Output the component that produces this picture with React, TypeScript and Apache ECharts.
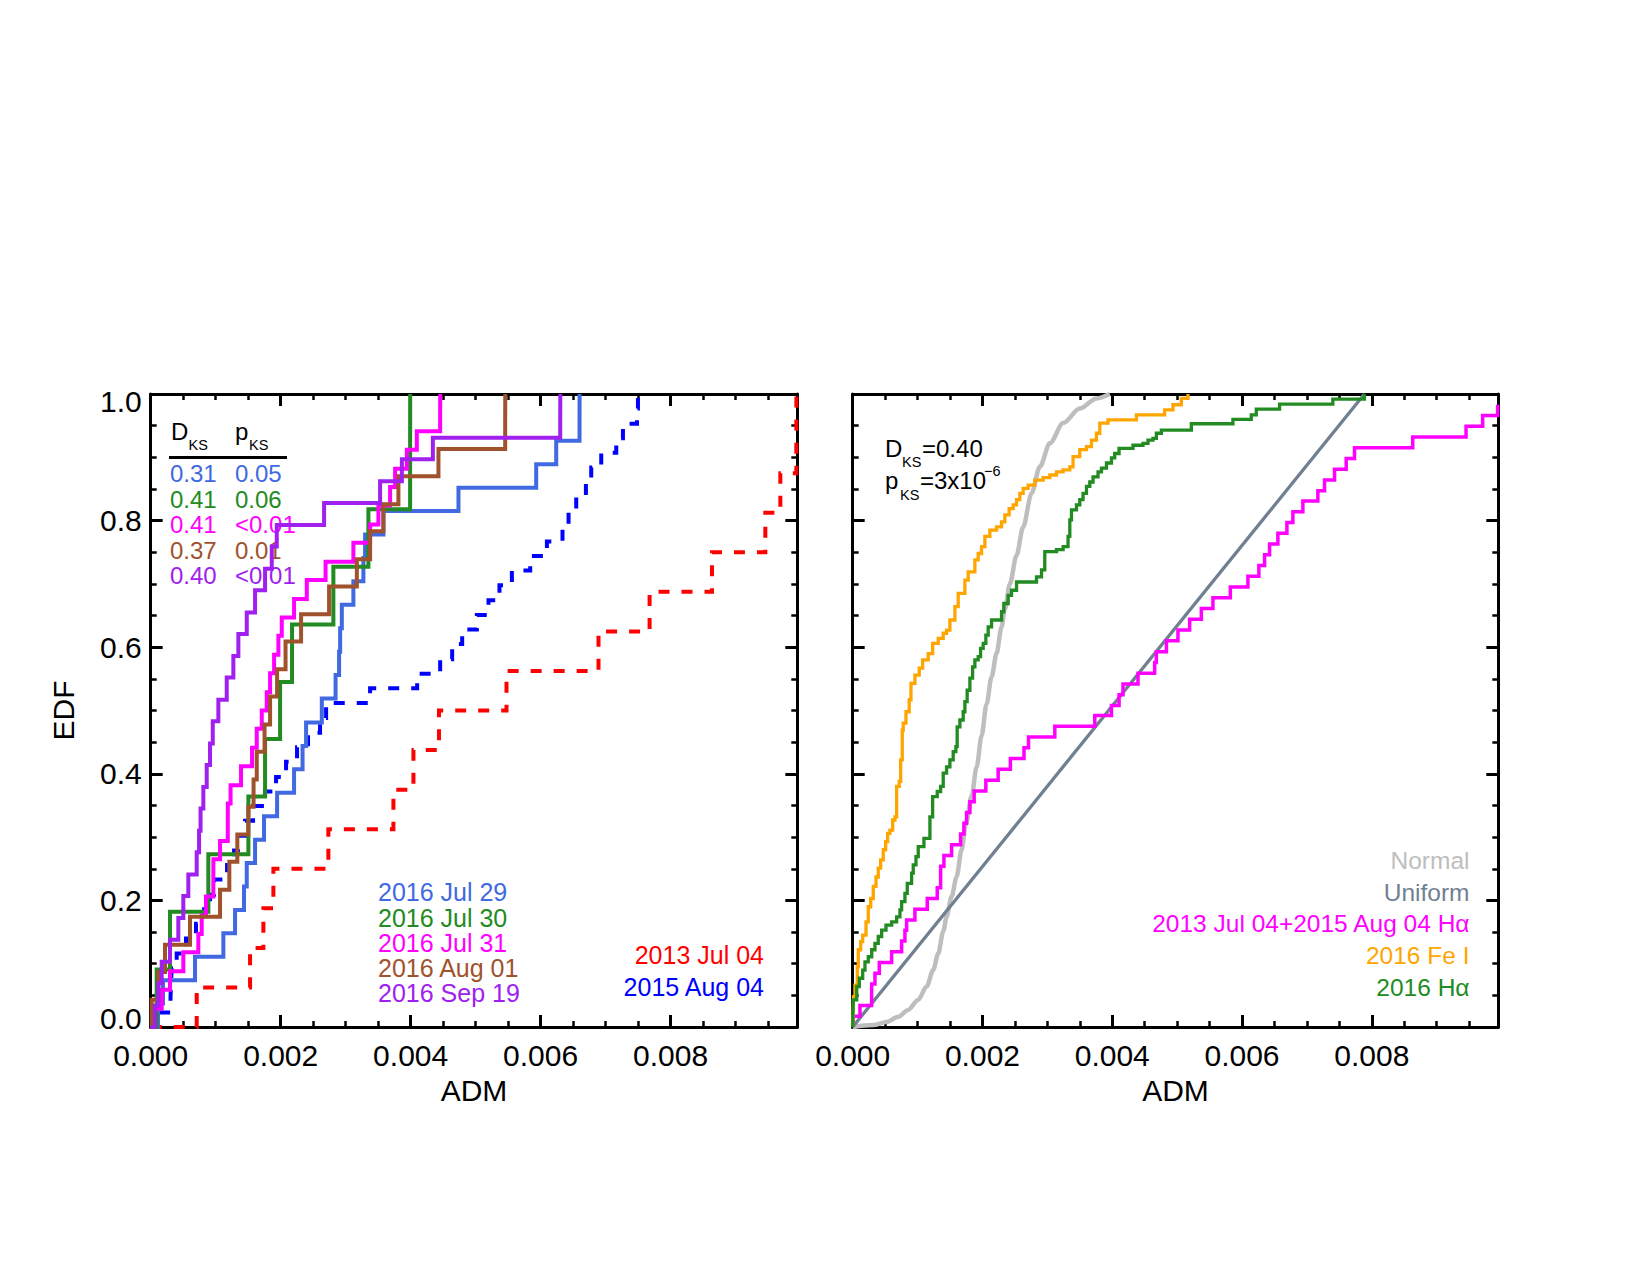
import React, { useEffect, useRef } from 'react';
import * as echarts from 'echarts';

const FONT = "'Liberation Sans', Arial, Helvetica, sans-serif";

const COLORS = {
  jul29: '#4169E1',
  jul30: '#228B22',
  jul31: '#FF00FF',
  aug01: '#A0522D',
  sep19: '#A020F0',
  red2013: '#FF0000',
  blue2015: '#0000FF',
  normal: '#BEBEBE',
  uniform: '#708090',
  fe: '#FFA500',
  ha: '#228B22',
  combo: '#FF00FF',
};

// ---------- Left panel: ADM values in units of 1e-3, EDF levels ----------
const jul29X = [0.112, 0.189, 0.682, 1.118, 1.298, 1.436, 1.478, 1.606, 1.744, 1.945, 2.206, 2.337, 2.391, 2.633, 2.845, 2.899, 2.915, 2.941, 3.119, 3.273, 3.299, 3.581, 4.736, 5.932, 6.240, 6.599, 6.600];
const jul29Y = [0.037, 0.074, 0.111, 0.148, 0.185, 0.222, 0.259, 0.296, 0.333, 0.370, 0.407, 0.444, 0.481, 0.519, 0.556, 0.593, 0.630, 0.667, 0.704, 0.741, 0.778, 0.815, 0.852, 0.889, 0.926, 0.963, 1.000];

const jul30X = [0.092, 0.297, 0.887, 1.503, 1.760, 1.991, 2.175, 2.811, 3.350, 3.992, 3.993];
const jul30Y = [0.091, 0.182, 0.273, 0.364, 0.455, 0.545, 0.636, 0.727, 0.818, 0.909, 1.000];

const jul31X = [0.066, 0.169, 0.297, 0.502, 0.733, 0.785, 0.851, 0.964, 0.965, 1.067, 1.186, 1.187, 1.229, 1.390, 1.560, 1.632, 1.709, 1.786, 1.837, 1.899, 1.965, 2.017, 2.206, 2.402, 2.691, 3.119, 3.376, 3.504, 3.684, 3.761, 3.942, 4.095, 4.454, 4.455];
const jul31Y = [0.029, 0.059, 0.088, 0.118, 0.147, 0.176, 0.206, 0.235, 0.265, 0.294, 0.324, 0.353, 0.382, 0.412, 0.441, 0.471, 0.500, 0.529, 0.559, 0.588, 0.618, 0.647, 0.676, 0.706, 0.735, 0.765, 0.794, 0.824, 0.853, 0.882, 0.912, 0.941, 0.971, 1.000];

const aug01X = [0.015, 0.117, 0.220, 0.605, 1.067, 1.210, 1.333, 1.503, 1.583, 1.632, 1.752, 1.837, 1.945, 2.075, 2.314, 2.745, 3.172, 3.376, 3.581, 3.812, 4.428, 5.455, 5.456];
const aug01Y = [0.043, 0.087, 0.130, 0.174, 0.217, 0.261, 0.304, 0.348, 0.391, 0.435, 0.478, 0.522, 0.565, 0.609, 0.652, 0.696, 0.739, 0.783, 0.826, 0.870, 0.913, 0.957, 1.000];

const sep19X = [0.066, 0.117, 0.169, 0.297, 0.425, 0.502, 0.579, 0.708, 0.744, 0.767, 0.810, 0.862, 0.913, 0.955, 1.041, 1.170, 1.272, 1.349, 1.478, 1.606, 1.760, 1.863, 1.940, 2.668, 3.530, 3.865, 4.342, 6.302, 6.303];
const sep19Y = [0.034, 0.069, 0.103, 0.138, 0.172, 0.207, 0.241, 0.276, 0.310, 0.345, 0.379, 0.414, 0.448, 0.483, 0.517, 0.552, 0.586, 0.621, 0.655, 0.690, 0.724, 0.759, 0.793, 0.828, 0.862, 0.897, 0.931, 0.966, 1.000];

const red2013X = [0.708, 1.529, 1.734, 1.888, 2.734, 3.735, 4.043, 4.436, 5.475, 6.891, 7.677, 8.637, 9.458, 9.689, 9.935, 9.936];
const red2013Y = [0.0625, 0.125, 0.1875, 0.25, 0.3125, 0.375, 0.4375, 0.5, 0.5625, 0.625, 0.6875, 0.75, 0.8125, 0.875, 0.9375, 1.0];

const blue2015X = [0.066, 0.305, 0.313, 0.323, 0.400, 0.543, 0.697, 0.821, 0.913, 0.975, 1.175, 1.283, 1.344, 1.452, 1.575, 1.760, 1.929, 2.083, 2.252, 2.421, 2.606, 2.699, 3.376, 4.100, 4.454, 4.639, 4.793, 5.019, 5.198, 5.367, 5.558, 5.840, 6.097, 6.337, 6.430, 6.548, 6.697, 6.779, 6.933, 7.164, 7.267, 7.483, 7.498];
const blue2015Y = [0.023, 0.047, 0.070, 0.093, 0.116, 0.140, 0.163, 0.186, 0.209, 0.233, 0.256, 0.279, 0.302, 0.326, 0.349, 0.372, 0.395, 0.419, 0.442, 0.465, 0.488, 0.512, 0.535, 0.558, 0.581, 0.605, 0.628, 0.651, 0.674, 0.698, 0.721, 0.744, 0.767, 0.791, 0.814, 0.837, 0.860, 0.884, 0.907, 0.930, 0.953, 0.977, 1.000];

// ---------- Right panel ----------
const normalX = [0, 0.317, 0.523, 0.702, 0.856, 1.010, 1.139, 1.241, 1.318, 1.395, 1.447, 1.524, 1.601, 1.678, 1.744, 1.832, 1.909, 1.986, 2.063, 2.140, 2.217, 2.294, 2.345, 2.422, 2.525, 2.627, 2.756, 2.884, 3.038, 3.243, 3.499, 3.757, 3.962];
const normalY = [0, 0.003, 0.008, 0.016, 0.027, 0.043, 0.064, 0.090, 0.116, 0.151, 0.174, 0.206, 0.237, 0.280, 0.320, 0.365, 0.410, 0.460, 0.510, 0.553, 0.590, 0.632, 0.660, 0.700, 0.745, 0.790, 0.843, 0.885, 0.922, 0.954, 0.977, 0.993, 1.000];

const uniformX = [0, 7.887];
const uniformY = [0, 1];

const comboX = [0.010, 0.112, 0.292, 0.293, 0.343, 0.410, 0.600, 0.754, 0.805, 0.831, 0.959, 1.149, 1.303, 1.355, 1.356, 1.406, 1.524, 1.663, 1.714, 1.755, 1.806, 1.872, 2.052, 2.242, 2.430, 2.640, 2.710, 3.115, 3.731, 3.988, 4.105, 4.166, 4.397, 4.654, 4.680, 4.835, 5.013, 5.193, 5.373, 5.552, 5.820, 6.091, 6.260, 6.348, 6.425, 6.553, 6.692, 6.784, 6.938, 7.169, 7.272, 7.426, 7.606, 7.734, 8.631, 9.453, 9.709, 9.940];
const comboY = [0.017, 0.034, 0.051, 0.068, 0.085, 0.102, 0.119, 0.136, 0.153, 0.169, 0.186, 0.203, 0.220, 0.237, 0.254, 0.271, 0.288, 0.305, 0.322, 0.339, 0.356, 0.373, 0.390, 0.407, 0.424, 0.441, 0.458, 0.475, 0.492, 0.508, 0.525, 0.542, 0.559, 0.576, 0.593, 0.610, 0.627, 0.644, 0.661, 0.678, 0.695, 0.712, 0.729, 0.746, 0.763, 0.780, 0.797, 0.814, 0.831, 0.847, 0.864, 0.881, 0.898, 0.915, 0.932, 0.949, 0.966, 0.983];

const feX = [0.009, 0.012, 0.035, 0.071, 0.086, 0.123, 0.154, 0.205, 0.240, 0.277, 0.317, 0.359, 0.394, 0.431, 0.471, 0.508, 0.539, 0.574, 0.616, 0.651, 0.677, 0.717, 0.739, 0.764, 0.779, 0.821, 0.871, 0.898, 0.959, 1.025, 1.078, 1.164, 1.232, 1.318, 1.395, 1.447, 1.498, 1.575, 1.626, 1.729, 1.780, 1.883, 1.934, 1.986, 2.037, 2.114, 2.217, 2.294, 2.345, 2.411, 2.473, 2.525, 2.576, 2.627, 2.704, 2.807, 2.935, 3.038, 3.141, 3.243, 3.346, 3.396, 3.499, 3.603, 3.680, 3.757, 3.808, 3.935, 4.373, 4.808, 4.936, 5.065, 5.167];
const feY = [0.030, 0.048, 0.066, 0.095, 0.122, 0.135, 0.145, 0.166, 0.190, 0.203, 0.222, 0.237, 0.251, 0.264, 0.280, 0.293, 0.306, 0.311, 0.327, 0.332, 0.380, 0.388, 0.422, 0.469, 0.480, 0.498, 0.517, 0.543, 0.556, 0.567, 0.580, 0.590, 0.606, 0.614, 0.622, 0.627, 0.643, 0.664, 0.685, 0.706, 0.719, 0.738, 0.748, 0.759, 0.775, 0.785, 0.790, 0.798, 0.809, 0.819, 0.825, 0.833, 0.843, 0.851, 0.856, 0.864, 0.868, 0.872, 0.877, 0.880, 0.885, 0.901, 0.912, 0.917, 0.927, 0.938, 0.954, 0.959, 0.967, 0.975, 0.983, 0.993, 1.000];

const haX = [0.005, 0.009, 0.062, 0.102, 0.154, 0.189, 0.240, 0.293, 0.343, 0.394, 0.446, 0.513, 0.600, 0.677, 0.728, 0.754, 0.805, 0.841, 0.908, 0.933, 0.975, 1.010, 1.098, 1.190, 1.232, 1.303, 1.355, 1.395, 1.447, 1.498, 1.549, 1.590, 1.610, 1.652, 1.703, 1.729, 1.764, 1.806, 1.848, 1.883, 1.934, 1.971, 2.011, 2.052, 2.088, 2.140, 2.294, 2.329, 2.396, 2.448, 2.525, 2.833, 2.910, 2.960, 2.961, 3.141, 3.243, 3.319, 3.346, 3.372, 3.449, 3.500, 3.550, 3.603, 3.654, 3.704, 3.781, 3.834, 3.911, 3.988, 4.038, 4.105, 4.320, 4.474, 4.551, 4.628, 4.680, 4.757, 5.219, 5.860, 6.143, 6.220, 6.579, 7.400, 7.887];
const haY = [0.027, 0.043, 0.064, 0.077, 0.090, 0.103, 0.111, 0.122, 0.132, 0.143, 0.153, 0.161, 0.166, 0.174, 0.185, 0.198, 0.211, 0.227, 0.243, 0.256, 0.269, 0.285, 0.298, 0.332, 0.364, 0.372, 0.380, 0.401, 0.411, 0.422, 0.435, 0.443, 0.474, 0.485, 0.498, 0.514, 0.532, 0.551, 0.569, 0.580, 0.585, 0.598, 0.606, 0.619, 0.632, 0.643, 0.656, 0.669, 0.682, 0.690, 0.703, 0.711, 0.722, 0.738, 0.751, 0.754, 0.759, 0.775, 0.801, 0.817, 0.825, 0.833, 0.843, 0.854, 0.861, 0.869, 0.877, 0.883, 0.891, 0.899, 0.906, 0.914, 0.919, 0.922, 0.927, 0.930, 0.938, 0.943, 0.953, 0.960, 0.967, 0.976, 0.984, 0.992, 1.000];

// ---------- Texts ----------
const ksD = ['0.31', '0.41', '0.41', '0.37', '0.40'];
const ksP = ['0.05', '0.06', '<0.01', '0.01', '<0.01'];
const leftDates = ['2016 Jul 29', '2016 Jul 30', '2016 Jul 31', '2016 Aug 01', '2016 Sep 19'];
const leftDateColors = [COLORS.jul29, COLORS.jul30, COLORS.jul31, COLORS.aug01, COLORS.sep19];
const leftRefLabels = ['2013 Jul 04', '2015 Aug 04'];
const leftRefColors = [COLORS.red2013, COLORS.blue2015];
const rightLabels = ['Normal', 'Uniform', '2013 Jul 04+2015 Aug 04 H\u03b1', '2016 Fe I', '2016 H\u03b1'];
const rightLabelColors = [COLORS.normal, COLORS.uniform, COLORS.combo, COLORS.fe, COLORS.ha];

const X_MAX = 0.00995;
const X_MAJOR = 0.002;
const X_MINOR = 0.0005;

function pairs(xs: number[], ys: number[], withOrigin: boolean) {
  const pts = xs.map((x, i) => [x * 1e-3, ys[i]]);
  return withOrigin ? [[0, 0], ...pts] : pts;
}

function tick(len: number, w: number) {
  return { show: true, inside: true, length: len, lineStyle: { color: '#000', width: w } };
}

const AXIS_LINE = { show: true, onZero: false, lineStyle: { color: '#000', width: 3 } };

function xAxesFor(gridIndex: number) {
  const common = { type: 'value', gridIndex, min: 0, max: X_MAX, splitLine: { show: false } };
  return [
    {
      ...common,
      position: 'bottom',
      interval: X_MAJOR,
      axisLine: AXIS_LINE,
      axisTick: tick(12, 3),
      axisLabel: {
        show: true,
        margin: 13,
        fontSize: 30,
        fontFamily: FONT,
        color: '#000',
        formatter: (v: number) => {
          const k = v / X_MAJOR;
          return Math.abs(k - Math.round(k)) < 1e-6 ? v.toFixed(3) : '';
        },
      },
    },
    { ...common, position: 'bottom', interval: X_MINOR, axisLine: { show: false, onZero: false }, axisTick: tick(6, 2.5), axisLabel: { show: false } },
    { ...common, position: 'top', interval: X_MAJOR, axisLine: AXIS_LINE, axisTick: tick(12, 3), axisLabel: { show: false } },
    { ...common, position: 'top', interval: X_MINOR, axisLine: { show: false, onZero: false }, axisTick: tick(6, 2.5), axisLabel: { show: false } },
  ];
}

function yAxesFor(gridIndex: number, labels: boolean) {
  const common = {
    type: 'value',
    gridIndex,
    min: 0,
    max: 1,
    interval: 0.2,
    splitLine: { show: false },
    minorSplitLine: { show: false },
    axisLine: AXIS_LINE,
    axisTick: tick(12, 3),
    minorTick: { show: true, splitNumber: 4, length: 6, lineStyle: { color: '#000', width: 2.5 } },
  };
  const lbl = labels
    ? {
        show: true,
        margin: 9,
        fontSize: 30,
        fontFamily: FONT,
        color: '#000',
        formatter: (v: number) => (v === 0 ? '{b|0.0}' : v === 1 ? '{t|1.0}' : v.toFixed(1)),
        rich: {
          b: { fontSize: 30, fontFamily: FONT, color: '#000', padding: [0, 0, 18, 0] },
          t: { fontSize: 30, fontFamily: FONT, color: '#000', padding: [15, 0, 0, 0] },
        },
      }
    : { show: false };
  return [
    { ...common, position: 'left', axisLabel: lbl },
    { ...common, position: 'right', axisLabel: { show: false } },
  ];
}

function line(name: string, data: number[][], color: string, axes: any, width: number, dashed = false, extra: any = {}) {
  return {
    type: 'line',
    name,
    data,
    ...axes,
    step: 'end',
    symbol: 'none',
    showSymbol: false,
    silent: true,
    clip: true,
    z: 3,
    lineStyle: { color, width, type: dashed ? [11, 12] : 'solid', cap: 'butt', join: 'miter' },
    itemStyle: { color },
    emphasis: { disabled: true },
    ...extra,
  };
}

function txt(text: string, x: number, y: number, size: number, color: string, align = 'left', extra: any = {}) {
  return {
    type: 'text',
    x,
    y,
    z: 1,
    silent: true,
    style: {
      text,
      fill: color,
      fontSize: size,
      fontFamily: FONT,
      textAlign: align,
      verticalAlign: 'middle',
      textVerticalAlign: 'middle',
    },
    ...extra,
  };
}

function buildOption() {
  const L = { xAxisIndex: 0, yAxisIndex: 0 };
  const R = { xAxisIndex: 4, yAxisIndex: 2 };

  const series = [
    line('2013 Jul 04', pairs(red2013X, red2013Y, true), COLORS.red2013, L, 4, true),
    line('2015 Aug 04', pairs(blue2015X, blue2015Y, true), COLORS.blue2015, L, 4, true),
    line('2016 Jul 29', pairs(jul29X, jul29Y, true), COLORS.jul29, L, 4),
    line('2016 Jul 30', pairs(jul30X, jul30Y, true), COLORS.jul30, L, 4),
    line('2016 Jul 31', pairs(jul31X, jul31Y, true), COLORS.jul31, L, 4),
    line('2016 Aug 01', pairs(aug01X, aug01Y, true), COLORS.aug01, L, 4),
    line('2016 Sep 19', pairs(sep19X, sep19Y, true), COLORS.sep19, L, 4),

    line('Normal', pairs(normalX, normalY, false), COLORS.normal, R, 4.5, false, { step: false, smooth: 0.3, smoothMonotone: 'x' }),
    line('Uniform', pairs(uniformX, uniformY, false), COLORS.uniform, R, 3.3, false, { step: false }),
    line('2013 Jul 04+2015 Aug 04 H\u03b1', pairs(comboX, comboY, true), COLORS.combo, R, 3.5),
    line('2016 Fe I', pairs(feX, feY, true), COLORS.fe, R, 3.3),
    line('2016 H\u03b1', pairs(haX, haY, true), COLORS.ha, R, 3.3),
  ];

  const graphics: any[] = [];
  // KS table (left panel)
  graphics.push(txt('D', 171, 431, 24, '#000'));
  graphics.push(txt('KS', 188.5, 445, 14.5, '#000'));
  graphics.push(txt('p', 235, 431, 24, '#000'));
  graphics.push(txt('KS', 249, 445, 14.5, '#000'));
  graphics.push({ type: 'line', z: 1, silent: true, shape: { x1: 169, y1: 457.5, x2: 287, y2: 457.5 }, style: { stroke: '#000', lineWidth: 3 } });
  const rowY = [473.5, 499, 524.5, 550, 575];
  ksD.forEach((d, i) => {
    graphics.push(txt(d, 170, rowY[i], 24, leftDateColors[i]));
    graphics.push(txt(ksP[i], 235, rowY[i], 24, leftDateColors[i]));
  });
  // left legend
  const legY = [892, 917.5, 942.7, 968, 993];
  leftDates.forEach((t, i) => graphics.push(txt(t, 378, legY[i], 25, leftDateColors[i])));
  const refY = [955, 987];
  leftRefLabels.forEach((t, i) => graphics.push(txt(t, 764, refY[i], 25, leftRefColors[i], 'right')));

  // right panel KS
  graphics.push(txt('D', 885, 448.5, 24, '#000'));
  graphics.push(txt('KS', 902, 462, 14.5, '#000'));
  graphics.push(txt('=0.40', 922, 448.5, 24, '#000'));
  graphics.push(txt('p', 885, 480, 24, '#000'));
  graphics.push(txt('KS', 900, 495, 14.5, '#000'));
  graphics.push(txt('=3x10', 920, 480, 24, '#000'));
  graphics.push(txt('\u22126', 984, 471, 14.5, '#000'));

  // right legend
  const rY = [860, 892.5, 923.5, 955, 987];
  rightLabels.forEach((t, i) => graphics.push(txt(t, 1469.5, rY[i], 24.5, rightLabelColors[i], 'right')));

  // axis titles
  graphics.push(txt('ADM', 474, 1090, 30, '#000', 'center'));
  graphics.push(txt('ADM', 1175.5, 1090, 30, '#000', 'center'));
  graphics.push(txt('EDF', 63, 710.5, 30, '#000', 'center', { rotation: Math.PI / 2 }));

  return {
    animation: false,
    backgroundColor: '#ffffff',
    grid: [
      { left: 150.7, top: 394, width: 646.6, height: 633, containLabel: false },
      { left: 852.7, top: 394, width: 645.6, height: 633, containLabel: false },
    ],
    xAxis: [...xAxesFor(0), ...xAxesFor(1)],
    yAxis: [...yAxesFor(0, true), ...yAxesFor(1, false)],
    series,
    graphic: { elements: graphics },
  };
}

export default function App() {
  const ref = useRef<HTMLDivElement>(null);
  useEffect(() => {
    if (!ref.current) return;
    const chart = echarts.init(ref.current, null, { renderer: 'svg' });
    chart.setOption(buildOption() as any);
    return () => chart.dispose();
  }, []);
  return (
    <div
      ref={ref}
      style={{ position: 'fixed', left: 0, top: 0, width: 1650, height: 1275, background: '#ffffff' }}
    />
  );
}
